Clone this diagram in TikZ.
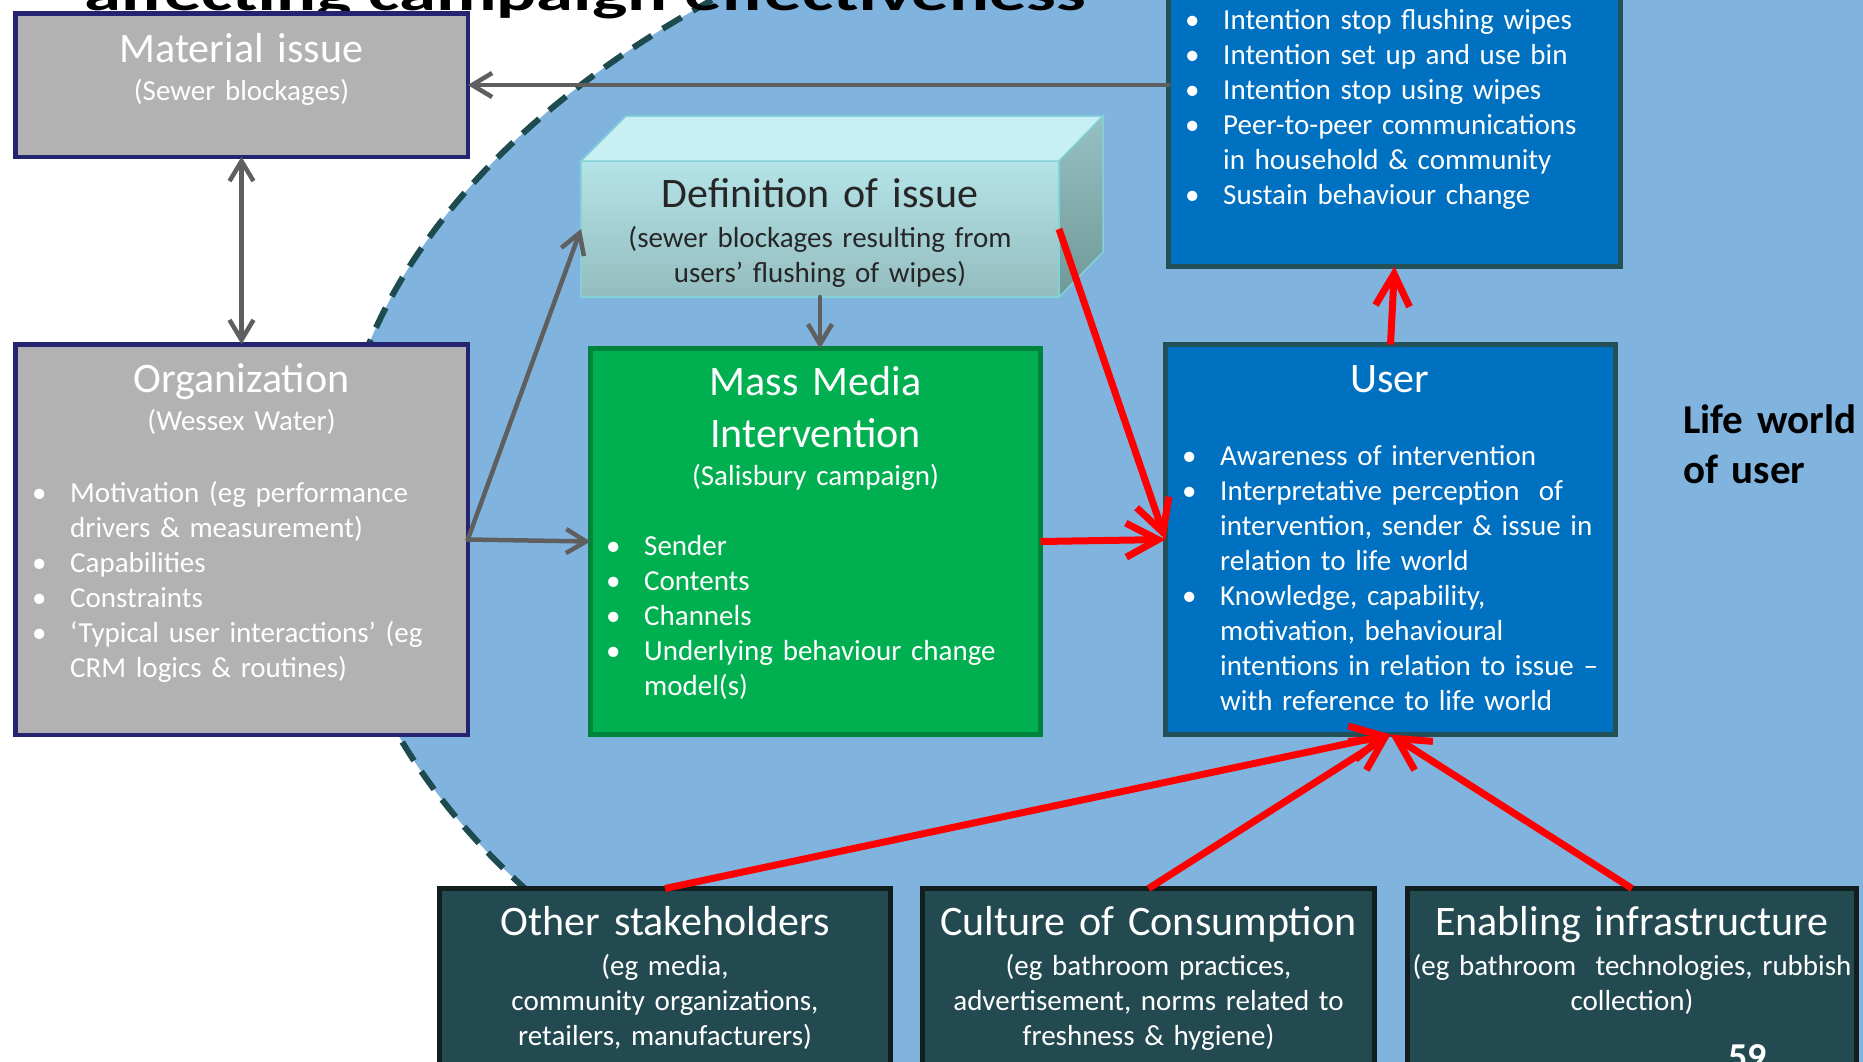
\documentclass[tikz,border=0pt]{standalone}
\usepackage{fontspec}
\usepackage{graphicx}
\setmainfont{Carlito}
\usetikzlibrary{arrows.meta}
\definecolor{ellfill}{RGB}{128,180,222}
\definecolor{elldash}{RGB}{30,75,80}
\definecolor{grayfill}{RGB}{178,178,178}
\definecolor{navy}{RGB}{36,36,112}
\definecolor{mgreen}{RGB}{0,176,80}
\definecolor{mgreenb}{RGB}{0,132,60}
\definecolor{ublue}{RGB}{0,112,192}
\definecolor{uborder}{RGB}{36,80,88}
\definecolor{dteal}{RGB}{34,74,80}
\definecolor{dtealb}{RGB}{16,30,30}
\definecolor{arrgray}{RGB}{95,95,95}
\definecolor{deftext}{RGB}{38,38,38}
\definecolor{defedge}{RGB}{130,210,216}
\definecolor{deftop}{RGB}{200,240,244}
\definecolor{deffronttop}{RGB}{180,228,232}
\definecolor{deffrontbot}{RGB}{148,188,190}
\definecolor{defsidetop}{RGB}{150,192,194}
\definecolor{defsidebot}{RGB}{112,152,152}
\newcommand\fsz[2]{\fontsize{#1}{#2}\selectfont}
\newcommand\bu{\makebox[38pt][l]{\textbullet}}
\newcommand\ind{\hspace*{38pt}}
\begin{document}
\begin{tikzpicture}[x=1pt,y=-1pt,
  box/.style={draw, inner sep=0pt, outer sep=0pt, anchor=north west},
  graybox/.style={box, fill=grayfill, draw=navy, line width=4.5pt},
  greenbox/.style={box, fill=mgreen, draw=mgreenb, line width=5pt},
  bluebox/.style={box, fill=ublue, draw=uborder, line width=5pt},
  tealbox/.style={box, fill=dteal, draw=dtealb, line width=5pt},
  ttl/.style={inner sep=0pt, anchor=base, font=\fsz{42}{52}, text width=440pt, align=center},
  sub/.style={inner sep=0pt, anchor=base, font=\fsz{29}{35}, text width=440pt, align=center},
  blist/.style={inner sep=0pt, anchor=base west, font=\fsz{29}{35}, text width=430pt, align=left},
  garr/.style={draw=arrgray, line width=4.5pt, line cap=round, -{Straight Barb[length=20pt,width=24pt]}},
  gdarr/.style={draw=arrgray, line width=4.5pt, line cap=round, {Straight Barb[length=20pt,width=24pt]}-{Straight Barb[length=20pt,width=24pt]}},
  rarr/.style={draw=red, line width=7pt, -{Straight Barb[length=32pt,width=34pt]}},
]
\useasboundingbox (0,0) rectangle (1863,1061);
\clip (0,0) rectangle (1863,1061);
\fill[white] (0,0) rectangle (1863,1061);
% life world ellipse
\path[fill=ellfill, draw=elldash, line width=6pt, dash pattern=on 22pt off 13pt]
  (1532,510) ellipse [x radius=1197, y radius=700];

% title (cut off)
\node[anchor=base west, inner sep=0pt] (title) at (84,10)
  {\resizebox{1002pt}{\height}{\fsz{50}{60}\bfseries affecting campaign effectiveness}};

% boxes
\node[graybox, minimum width=452.5pt, minimum height=143.5pt] (material) at (15.25,13.25) {};
\node[graybox, minimum width=452.5pt, minimum height=390.5pt] (org) at (15.25,344.25) {};
\node[greenbox, minimum width=450pt, minimum height=386pt] (mass) at (590.5,348.5) {};
\node[bluebox, minimum width=450pt, minimum height=390pt] (user) at (1165.5,344.5) {};
\node[bluebox, minimum width=452pt, minimum height=363pt] (intent) at (1168.5,-96.5) {};
\node[tealbox, minimum width=451pt, minimum height=220pt] (other) at (439.5,888.5) {};
\node[tealbox, minimum width=452pt, minimum height=220pt] (culture) at (922.5,888.5) {};
\node[tealbox, minimum width=449pt, minimum height=220pt] (enabling) at (1407.5,888.5) {};

% definition of issue: 3D block
\node[box, draw=defedge, line width=1.5pt, top color=deffronttop, bottom color=deffrontbot,
      minimum width=478pt, minimum height=136pt] (def) at (581,161) {};
\path[fill=deftop, draw=defedge, line width=1.5pt]
  (def.north west) -- ++(45,-45) -- ++(477,0) -- (def.north east) -- cycle;
\shade[top color=defsidetop, bottom color=defsidebot, draw=defedge, line width=1.5pt]
  (def.north east) -- ++(44,-45) -- ++(0,136) -- (def.south east) -- cycle;

% texts
\node[ttl, text=white] (materialT) at (241.5,62) {Material issue};
\node[sub, text=white] (materialS) at (241.5,100) {(Sewer blockages)};

\node[ttl, text=white] (orgT) at (241.5,392) {Organization};
\node[sub, text=white] (orgS) at (241.5,430) {(Wessex Water)};
\node[blist, text=white] (orgL) at (32,502) {\bu Motivation (eg performance\\
  \ind drivers \& measurement)\\
  \bu Capabilities\\
  \bu Constraints\\
  \bu ‘Typical user interactions’ (eg\\
  \ind CRM logics \& routines)};

\node[ttl, text=deftext] (defT) at (820,207) {Definition of issue};
\node[sub, text=deftext] (defS) at (820,247) {(sewer blockages resulting from\\ users’ flushing of wipes)};

\node[ttl, text=white] (massT) at (815.5,395) {Mass Media\\ Intervention};
\node[sub, text=white] (massS) at (815.5,485) {(Salisbury campaign)};
\node[blist, text=white] (massL) at (606,555) {\bu Sender\\
  \bu Contents\\
  \bu Channels\\
  \bu Underlying behaviour change\\
  \ind model(s)};

\node[ttl, text=white] (userT) at (1390,392) {User};
\node[blist, text=white] (userL) at (1182,465) {\bu Awareness of intervention\\
  \bu Interpretative perception~ of\\
  \ind intervention, sender \& issue in\\
  \ind relation to life world\\
  \bu Knowledge, capability,\\
  \ind motivation, behavioural\\
  \ind intentions in relation to issue –\\
  \ind with reference to life world};

\node[blist, text=white] (intentL) at (1185,29) {\bu Intention stop flushing wipes\\
  \bu Intention set up and use bin\\
  \bu Intention stop using wipes\\
  \bu Peer-to-peer communications\\
  \ind in household \& community\\
  \bu Sustain behaviour change};

\node[ttl, text=white] (otherT) at (665,935) {Other stakeholders};
\node[sub, text=white] (otherS) at (665,975) {(eg media,\\ community organizations,\\ retailers, manufacturers)};
\node[ttl, text=white] (cultureT) at (1148.5,935) {Culture of Consumption};
\node[sub, text=white] (cultureS) at (1148.5,975) {(eg bathroom practices,\\ advertisement, norms related to\\ freshness \& hygiene)};
\node[ttl, text=white] (enablingT) at (1632,935) {Enabling infrastructure};
\node[sub, text=white] (enablingS) at (1632,975) {(eg bathroom~ technologies, rubbish\\ collection)};

\node[anchor=base west, inner sep=0pt, font=\fsz{41}{50}\bfseries, text width=250pt, align=left] (life) at (1683,433) {Life world\\of user};
\node[anchor=base west, inner sep=0pt, font=\fsz{38}{40}\bfseries, text=white] (pagenum) at (1728,1069) {59};

% gray connectors
\draw[garr] (intent.west) -- (material.east);
\draw[gdarr] (material.south) -- (org.north);
\draw[garr] (org.east) -- (def.west);
\draw[garr] (org.east) -- (mass.west);
\draw[garr] (def.south) -- (def.south |- mass.north);

% red connectors
\draw[rarr] (mass.east) -- (user.west);
\draw[rarr] (def.east) -- (user.west);
\draw[rarr] (user.north) -- (intent.south);
\draw[rarr] (other.north) -- (user.south);
\draw[rarr] (culture.north) -- (user.south);
\draw[rarr] (enabling.north) -- (user.south);
\end{tikzpicture}
\end{document}
